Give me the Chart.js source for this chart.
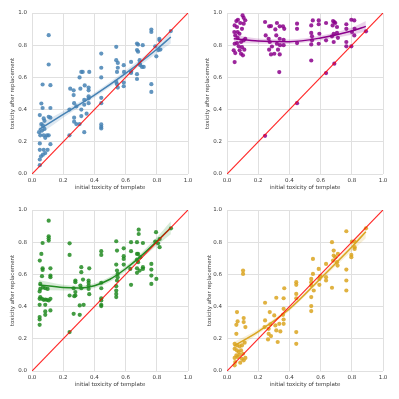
<!DOCTYPE html>
<html><head><meta charset="utf-8">
<script src="https://cdn.jsdelivr.net/npm/chart.js@4/dist/chart.umd.min.js"></script>
<style>
html,body{margin:0;padding:0;background:#fff;width:399px;height:399px;overflow:hidden}
canvas{position:absolute}
</style></head><body>
<canvas id="c1" width="199" height="199" style="left:0;top:0"></canvas>
<canvas id="c2" width="199" height="199" style="left:200px;top:0"></canvas>
<canvas id="c3" width="199" height="200" style="left:0;top:199px"></canvas>
<canvas id="c4" width="199" height="200" style="left:200px;top:199px"></canvas>
<script>
// ---------- data ----------
const axisTicks = [0.0, 0.2, 0.4, 0.6, 0.8, 1.0];
const xTitle = 'initial toxicity of template';
const yTitle = 'toxicity after replacement';
const diagonal = [[0, 0], [1, 1]];

const bluePoints = [[0.107,0.862],[0.107,0.68],[0.068,0.556],[0.118,0.552],[0.06,0.438],[0.068,0.41],[0.118,0.41],[0.05,0.366],[0.107,0.355],[0.118,0.35],[0.075,0.345],[0.08,0.33],[0.06,0.31],[0.07,0.30],[0.08,0.28],[0.064,0.27],[0.045,0.26],[0.053,0.24],[0.075,0.24],[0.096,0.24],[0.107,0.24],[0.085,0.225],[0.05,0.19],[0.118,0.185],[0.05,0.15],[0.075,0.15],[0.1,0.15],[0.085,0.13],[0.07,0.12],[0.058,0.11],[0.05,0.09],[0.05,0.055],
[0.24,0.24],[0.24,0.40],[0.245,0.53],[0.267,0.52],[0.267,0.49],[0.27,0.44],[0.284,0.42],[0.27,0.35],[0.27,0.325],[0.284,0.31],
[0.305,0.6],[0.316,0.634],[0.325,0.634],[0.31,0.53],[0.316,0.40],[0.316,0.36],[0.305,0.31],
[0.338,0.55],[0.335,0.46],[0.335,0.43],[0.335,0.26],
[0.367,0.634],[0.363,0.537],[0.363,0.52],[0.363,0.483],[0.363,0.47],[0.363,0.44],[0.35,0.375],
[0.444,0.748],[0.444,0.66],[0.444,0.6],[0.444,0.473],[0.444,0.44],[0.444,0.308],[0.444,0.293],[0.444,0.283],
[0.54,0.79],[0.54,0.707],[0.55,0.69],[0.545,0.634],[0.55,0.66],[0.54,0.572],[0.545,0.558],[0.55,0.537],
[0.588,0.676],[0.59,0.634],[0.588,0.568],[0.588,0.545],
[0.635,0.696],[0.635,0.638],[0.635,0.628],
[0.673,0.81],[0.68,0.804],[0.673,0.77],[0.68,0.76],[0.673,0.62],[0.673,0.59],[0.69,0.686],[0.694,0.676],[0.705,0.665],[0.716,0.665],[0.71,0.8],[0.69,0.707],
[0.765,0.897],[0.765,0.882],[0.765,0.558],[0.765,0.51],
[0.79,0.793],[0.797,0.731],[0.816,0.84],[0.818,0.83],[0.823,0.773],[0.81,0.77],
[0.89,0.888]];
const blueFitX  = [0.043, 0.2, 0.4, 0.6, 0.8, 0.89];
const blueFitY  = [0.275, 0.37, 0.49, 0.625, 0.775, 0.851];
const blueFitLo = [0.24, 0.35, 0.475, 0.607, 0.75, 0.81];
const blueFitHi = [0.31, 0.39, 0.505, 0.643, 0.80, 0.89];

const purplePoints = [[0.244,0.237],[0.449,0.44],[0.635,0.627],[0.688,0.685],[0.797,0.793],[0.891,0.886],
[0.049,0.695],[0.049,0.923],[0.06,0.95],[0.07,0.958],[0.085,0.938],[0.1,0.985],[0.107,0.97],[0.117,0.955],[0.107,0.934],[0.053,0.861],[0.068,0.882],[0.08,0.871],[0.096,0.902],[0.049,0.809],[0.064,0.813],[0.075,0.793],[0.09,0.82],[0.107,0.83],[0.117,0.84],[0.043,0.768],[0.053,0.751],[0.081,0.768],[0.09,0.747],[0.102,0.737],[0.111,0.772],[0.068,0.846],[0.096,0.788],[0.064,0.913],[0.047,0.882],
[0.244,0.944],[0.248,0.861],[0.27,0.917],[0.282,0.919],[0.267,0.84],[0.274,0.82],[0.27,0.772],[0.282,0.743],[0.288,0.792],
[0.31,0.898],[0.32,0.938],[0.316,0.861],[0.32,0.809],[0.327,0.772],[0.303,0.747],[0.338,0.743],[0.335,0.633],[0.338,0.84],[0.338,0.917],[0.34,0.8],
[0.359,0.917],[0.367,0.902],[0.363,0.834],[0.363,0.8],
[0.449,0.934],[0.449,0.902],[0.449,0.813],
[0.54,0.923],[0.55,0.954],[0.54,0.876],[0.545,0.855],[0.545,0.83],[0.54,0.805],[0.54,0.705],[0.588,0.954],[0.588,0.93],[0.592,0.871],[0.588,0.809],
[0.635,0.938],[0.635,0.83],
[0.68,0.95],[0.688,0.944],[0.677,0.923],[0.684,0.871],[0.673,0.855],[0.705,0.913],[0.705,0.876],[0.711,0.846],[0.684,0.82],[0.694,0.938],
[0.765,0.93],[0.765,0.902],[0.765,0.82],[0.765,0.793],
[0.797,0.958],[0.801,0.882],[0.816,0.954],[0.818,0.902],[0.816,0.861]];
const purpleFitX  = [0.043, 0.2, 0.4, 0.6, 0.8, 0.89];
const purpleFitY  = [0.84, 0.826, 0.822, 0.845, 0.888, 0.917];
const purpleFitLo = [0.815, 0.81, 0.808, 0.83, 0.865, 0.885];
const purpleFitHi = [0.865, 0.842, 0.836, 0.86, 0.91, 0.95];

const greenPoints = [[0.107,0.934],[0.107,0.837],[0.107,0.824],[0.107,0.81],[0.068,0.795],[0.06,0.727],[0.05,0.686],
[0.068,0.638],[0.068,0.628],[0.118,0.638],[0.118,0.593],[0.118,0.583],[0.064,0.589],
[0.053,0.541],[0.053,0.51],[0.07,0.52],[0.085,0.514],[0.1,0.51],[0.049,0.494],
[0.053,0.459],[0.049,0.448],[0.064,0.448],[0.075,0.442],[0.085,0.444],[0.096,0.442],[0.107,0.438],[0.118,0.448],
[0.049,0.411],[0.085,0.411],[0.118,0.376],[0.085,0.37],[0.085,0.349],[0.049,0.335],[0.049,0.32],[0.049,0.287],
[0.241,0.793],[0.241,0.721],[0.241,0.469],[0.241,0.242],[0.267,0.514],[0.271,0.465],[0.267,0.355],[0.278,0.562],[0.278,0.552],[0.278,0.49],[0.278,0.469],
[0.306,0.407],[0.306,0.349],[0.316,0.645],[0.316,0.614],[0.31,0.531],[0.316,0.514],[0.331,0.411],[0.327,0.568],
[0.367,0.638],[0.363,0.562],[0.363,0.548],[0.363,0.531],[0.363,0.51],[0.367,0.477],
[0.444,0.744],[0.444,0.721],[0.444,0.548],[0.444,0.514],[0.444,0.452],[0.444,0.438],[0.444,0.411],[0.444,0.403],
[0.54,0.806],[0.545,0.748],[0.54,0.661],[0.545,0.624],[0.549,0.603],[0.54,0.527],[0.54,0.5],[0.54,0.479],[0.54,0.459],[0.549,0.583],[0.545,0.562],
[0.588,0.762],[0.588,0.713],[0.588,0.696],[0.588,0.661],
[0.635,0.8],[0.635,0.744],[0.635,0.535],[0.63,0.634],
[0.673,0.8],[0.673,0.727],[0.673,0.692],[0.673,0.638],[0.673,0.61],[0.684,0.878],[0.684,0.851],[0.68,0.727],[0.68,0.676],[0.69,0.624],[0.711,0.795],[0.711,0.645],[0.711,0.634],[0.694,0.707],
[0.765,0.665],[0.765,0.63],[0.765,0.541],[0.765,0.593],
[0.79,0.804],[0.795,0.862],[0.797,0.572],[0.818,0.82],[0.818,0.769],[0.808,0.793],
[0.891,0.886]];
const greenFitX  = [0.043, 0.2, 0.3, 0.4, 0.5, 0.6, 0.7, 0.8, 0.89];
const greenFitY  = [0.535, 0.518, 0.515, 0.53, 0.57, 0.635, 0.715, 0.805, 0.89];
const greenFitLo = [0.505, 0.50, 0.50, 0.515, 0.555, 0.62, 0.697, 0.78, 0.85];
const greenFitHi = [0.565, 0.536, 0.53, 0.545, 0.585, 0.65, 0.733, 0.83, 0.93];

const goldPoints = [[0.103,0.624],[0.103,0.603],
[0.064,0.366],[0.068,0.308],[0.06,0.287],[0.06,0.231],[0.107,0.329],[0.107,0.304],[0.118,0.273],
[0.049,0.169],[0.064,0.159],[0.081,0.153],[0.096,0.159],[0.113,0.176],[0.049,0.138],[0.075,0.118],[0.09,0.128],[0.06,0.097],[0.081,0.101],[0.103,0.107],[0.049,0.081],[0.068,0.087],[0.096,0.076],[0.118,0.081],[0.053,0.056],[0.085,0.052],[0.049,0.035],[0.107,0.066],[0.064,0.128],
[0.244,0.424],[0.244,0.314],[0.241,0.273],[0.267,0.262],[0.267,0.231],[0.274,0.366],[0.278,0.289],[0.282,0.217],[0.263,0.196],
[0.316,0.455],[0.303,0.345],[0.31,0.283],[0.316,0.252],[0.325,0.18],[0.342,0.246],[0.335,0.293],[0.359,0.349],[0.363,0.452],[0.363,0.386],[0.363,0.32],[0.363,0.293],[0.367,0.514],
[0.444,0.552],[0.444,0.535],[0.444,0.479],[0.444,0.452],[0.444,0.242],[0.444,0.169],
[0.551,0.696],[0.54,0.572],[0.54,0.552],[0.54,0.531],[0.54,0.459],[0.54,0.403],[0.54,0.372],[0.556,0.5],[0.551,0.603],
[0.588,0.634],[0.592,0.572],[0.592,0.535],[0.598,0.589],
[0.635,0.562],[0.635,0.583],[0.635,0.665],
[0.673,0.8],[0.684,0.748],[0.684,0.717],[0.68,0.686],[0.673,0.517],[0.694,0.707],[0.705,0.676],[0.711,0.727],[0.709,0.655],
[0.765,0.868],[0.765,0.63],[0.765,0.562],[0.765,0.5],
[0.797,0.721],[0.797,0.707],[0.801,0.804],[0.818,0.804],[0.818,0.769],[0.818,0.758],
[0.891,0.886]];
const goldFitX  = [0.043, 0.2, 0.4, 0.6, 0.8, 0.89];
const goldFitY  = [0.155, 0.245, 0.385, 0.575, 0.77, 0.865];
const goldFitLo = [0.13, 0.23, 0.373, 0.56, 0.745, 0.825];
const goldFitHi = [0.18, 0.26, 0.397, 0.59, 0.795, 0.905];

// ---------- drawing ----------
const FONT = 'DejaVu Sans';
const FS = 5.5;
const TXT = '#3a3a3a';
const GRID = '#e0e0e0';
Chart.defaults.font.family = FONT;

const xy = (xs, ys) => xs.map((x, i) => ({x, y: ys[i]}));
const pts = arr => arr.map(p => ({x: p[0], y: p[1]}));

function panel(id, g, points, fx, fy, flo, fhi, rgb) {
  new Chart(document.getElementById(id), {
    type: 'scatter',
    data: {
      datasets: [
        {data: pts(diagonal), showLine: true, borderColor: 'rgba(255,0,0,0.85)', borderWidth: 1.2, pointRadius: 0, order: 0},
        {data: xy(fx, fy), showLine: true, borderColor: `rgb(${rgb})`, borderWidth: 1.5, pointRadius: 0, cubicInterpolationMode: 'monotone', order: 1},
        {data: pts(points), backgroundColor: `rgba(${rgb},0.85)`, borderWidth: 0, pointRadius: 2.1, order: 2},
        {data: xy(fx, fhi), showLine: true, borderWidth: 0, borderColor: 'rgba(0,0,0,0)', pointRadius: 0, cubicInterpolationMode: 'monotone', fill: '+1', backgroundColor: `rgba(${rgb},0.18)`, order: 3},
        {data: xy(fx, flo), showLine: true, borderWidth: 0, borderColor: 'rgba(0,0,0,0)', pointRadius: 0, cubicInterpolationMode: 'monotone', fill: false, order: 4}
      ]
    },
    options: {
      responsive: false, animation: false, events: [],
      layout: {padding: {top: g.top, right: g.right, left: 0, bottom: 0}},
      plugins: {legend: {display: false}, tooltip: {enabled: false}},
      scales: {
        x: {
          type: 'linear', min: 0, max: 1,
          afterFit: s => { s.height = g.xh; },
          afterBuildTicks: s => { s.ticks = axisTicks.map(v => ({value: v})); },
          ticks: {padding: g.xtp, color: TXT, font: {size: FS}, maxRotation: 0, autoSkip: false, callback: v => v.toFixed(1)},
          grid: {color: GRID, lineWidth: 1, drawTicks: false},
          border: {display: false},
          title: {display: true, text: xTitle, color: TXT, font: {size: FS}, padding: {top: 0, bottom: g.xtb}}
        },
        y: {
          type: 'linear', min: 0, max: 1,
          afterFit: s => { s.width = g.yw; },
          afterBuildTicks: s => { s.ticks = axisTicks.map(v => ({value: v})); },
          ticks: {padding: 5, color: TXT, font: {size: FS}, callback: v => v.toFixed(1)},
          grid: {color: GRID, lineWidth: 1, drawTicks: false},
          border: {display: false},
          title: {display: true, text: yTitle, color: TXT, font: {size: FS}, padding: {top: g.ytp, bottom: 0}}
        }
      }
    }
  });
}

panel('c1', {top: 13, right: 11, xh: 25, yw: 32, xtp: 3, xtb: 7.7, ytp: 9.3}, bluePoints, blueFitX, blueFitY, blueFitLo, blueFitHi, '70,130,180');
panel('c2', {top: 13, right: 16, xh: 25, yw: 27, xtp: 3, xtb: 7.7, ytp: 4}, purplePoints, purpleFitX, purpleFitY, purpleFitLo, purpleFitHi, '139,0,139');
panel('c3', {top: 11, right: 11, xh: 28, yw: 32, xtp: 3, xtb: 11, ytp: 9.3}, greenPoints, greenFitX, greenFitY, greenFitLo, greenFitHi, '34,139,34');
panel('c4', {top: 11, right: 16, xh: 28, yw: 27, xtp: 3, xtb: 11, ytp: 6.5}, goldPoints, goldFitX, goldFitY, goldFitLo, goldFitHi, '218,165,32');
</script>
</body></html>
